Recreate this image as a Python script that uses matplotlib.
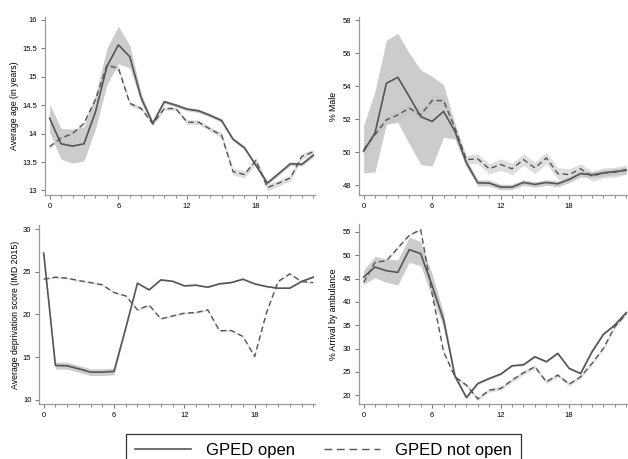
import numpy as np
import matplotlib.pyplot as plt
from matplotlib.lines import Line2D

plt.rcParams['font.family'] = ['Liberation Sans', 'DejaVu Sans']

hours = np.arange(24)

# --- Average age ---
age_open = [14.27, 13.82, 13.78, 13.82, 14.38, 15.18, 15.56, 15.35, 14.62, 14.18, 14.56, 14.5,
            14.43, 14.4, 14.32, 14.23, 13.9, 13.75, 13.44, 13.13, 13.3, 13.47, 13.46, 13.62]
age_open_ci = [0.25, 0.27, 0.3, 0.3, 0.3, 0.32, 0.33, 0.2, 0.08, 0.04, 0.03, 0.03,
               0.03, 0.03, 0.03, 0.03, 0.03, 0.03, 0.03, 0.03, 0.03, 0.03, 0.03, 0.03]
age_closed = [13.77, 13.92, 14.0, 14.18, 14.6, 15.2, 15.15, 14.53, 14.44, 14.17, 14.44, 14.44,
              14.2, 14.2, 14.08, 13.97, 13.33, 13.28, 13.53, 13.05, 13.13, 13.22, 13.6, 13.68]
age_closed_ci = [0.03, 0.03, 0.03, 0.03, 0.04, 0.05, 0.05, 0.04, 0.03, 0.03, 0.03, 0.03,
                 0.04, 0.04, 0.04, 0.05, 0.06, 0.06, 0.06, 0.06, 0.05, 0.05, 0.05, 0.04]

# --- % Male ---
male_open = [50.05, 51.16, 54.18, 54.54, 53.37, 52.16, 51.86, 52.47, 51.26, 49.35, 48.14, 48.12,
             47.88, 47.88, 48.16, 48.04, 48.16, 48.08, 48.34, 48.7, 48.62, 48.74, 48.82, 48.9]
male_open_lo = [48.75, 48.8, 51.7, 51.8, 50.5, 49.25, 49.15, 50.9, 50.8, 49.1, 47.95, 47.95,
                47.72, 47.72, 47.98, 47.88, 47.98, 47.9, 48.15, 48.5, 48.45, 48.55, 48.62, 48.7]
male_open_hi = [51.6, 53.7, 56.8, 57.2, 56.0, 55.0, 54.6, 54.1, 51.7, 49.6, 48.32, 48.3,
                48.05, 48.05, 48.33, 48.2, 48.33, 48.25, 48.52, 48.88, 48.8, 48.93, 49.0, 49.1]
male_closed = [50.15, 51.06, 51.96, 52.26, 52.67, 52.26, 53.13, 53.13, 51.46, 49.55, 49.59, 48.99,
               49.25, 48.99, 49.55, 49.04, 49.65, 48.7, 48.64, 48.99, 48.54, 48.74, 48.78, 48.94]
male_closed_ci = [0.3, 0.3, 0.3, 0.3, 0.3, 0.3, 0.3, 0.3, 0.25, 0.25, 0.3, 0.3,
                  0.35, 0.35, 0.35, 0.35, 0.35, 0.35, 0.35, 0.3, 0.3, 0.3, 0.3, 0.3]

# --- Deprivation score ---
imd_open = [27.2, 14.02, 13.98, 13.63, 13.24, 13.24, 13.32, 18.4, 23.67, 22.89, 24.06, 23.9,
            23.36, 23.44, 23.2, 23.6, 23.75, 24.14, 23.6, 23.28, 23.09, 23.09, 23.87, 24.38]
imd_open_ci = [0.3, 0.4, 0.4, 0.4, 0.4, 0.4, 0.4, 0.1, 0.05, 0.05, 0.05, 0.05,
               0.05, 0.05, 0.05, 0.05, 0.05, 0.05, 0.05, 0.05, 0.05, 0.05, 0.05, 0.05]
imd_closed = [24.14, 24.38, 24.26, 23.98, 23.75, 23.48, 22.58, 22.19, 20.55, 21.1, 19.49, 19.84,
              20.16, 20.23, 20.55, 18.09, 18.13, 17.42, 15.08, 20.16, 23.87, 24.77, 23.87, 23.75]
imd_closed_ci = [0.1] * 24

# --- % Arrival by ambulance ---
amb_open = [45.3, 47.47, 46.68, 46.32, 51.2, 50.34, 43.5, 36.13, 24.08, 19.49, 22.5, 23.58,
            24.51, 26.3, 26.52, 28.24, 27.17, 28.96, 25.73, 24.65, 29.32, 33.05, 35.06, 37.71]
amb_open_ci = [1.5, 2.3, 2.5, 2.7, 2.7, 2.6, 2.5, 1.5, 0.5, 0.3, 0.2, 0.2,
               0.2, 0.2, 0.2, 0.2, 0.2, 0.2, 0.2, 0.2, 0.2, 0.2, 0.2, 0.2]
amb_closed = [44.17, 48.47, 48.83, 51.56, 54.28, 55.5, 41.8, 29.32, 23.94, 22.14, 19.2, 21.07,
              21.43, 23.22, 24.8, 26.09, 22.86, 24.3, 22.36, 23.94, 26.81, 30.04, 34.7, 37.42]
amb_closed_ci = [0.2, 0.2, 0.2, 0.2, 0.2, 0.2, 0.3, 0.3, 0.3, 0.3, 0.4, 0.4,
                 0.4, 0.4, 0.4, 0.4, 0.4, 0.4, 0.4, 0.4, 0.3, 0.3, 0.3, 0.3]

LINE_C = '#555555'
BAND_OPEN = '#c4c4c4'
BAND_CLOSED = '#dedede'

W, H = 628, 459
fig = plt.figure(figsize=(W / 100, H / 100), dpi=100)


def px_axes(left, right, top, bottom):
    return fig.add_axes([left / W, 1 - bottom / H, (right - left) / W, (bottom - top) / H])


def style(ax, ylim, yticks, ylabel, label_x):
    ax.set_xlim(-0.4, 23.15)
    ax.set_ylim(*ylim)
    ax.set_xticks([0, 6, 12, 18])
    ax.set_xticks(hours, minor=True)
    ax.set_yticks(yticks)
    ax.set_yticklabels([('%g' % v) for v in yticks])
    for s in ['top', 'right']:
        ax.spines[s].set_visible(False)
    for s in ['left', 'bottom']:
        ax.spines[s].set_color('#9a9a9a')
        ax.spines[s].set_linewidth(0.9)
    ax.tick_params(axis='both', which='major', length=3, width=0.7, color='#777777',
                   labelsize=5.5, pad=2.5)
    ax.tick_params(axis='x', which='minor', length=2, width=0.6, color='#777777')
    ax.set_ylabel(ylabel, fontsize=6.3)
    ax.yaxis.set_label_coords(label_x, 0.5)


def draw(ax, y1, lo1, hi1, y2, lo2, hi2):
    ax.fill_between(hours, lo2, hi2, color=BAND_CLOSED, lw=0, zorder=1)
    ax.fill_between(hours, lo1, hi1, color=BAND_OPEN, lw=0, alpha=0.85, zorder=2)
    ax.plot(hours, y1, color=LINE_C, lw=1.2, zorder=3)
    ax.plot(hours, y2, color=LINE_C, lw=1.0, ls=(0, (4, 2.5)), zorder=3)


def ci(y, c):
    y, c = np.array(y), np.array(c)
    return y - c, y + c


ax1 = px_axes(45, 315, 17, 195)
draw(ax1, age_open, *ci(age_open, age_open_ci), age_closed, *ci(age_closed, age_closed_ci))
style(ax1, (12.92, 16.05), [13, 13.5, 14, 14.5, 15, 15.5, 16], 'Average age (in years)', -0.095)

ax2 = px_axes(359, 628, 17, 195)
draw(ax2, male_open, male_open_lo, male_open_hi, male_closed, *ci(male_closed, male_closed_ci))
style(ax2, (47.4, 58.2), [48, 50, 52, 54, 56, 58], '% Male', -0.078)

ax3 = px_axes(39, 315, 225, 404)
draw(ax3, imd_open, *ci(imd_open, imd_open_ci), imd_closed, *ci(imd_closed, imd_closed_ci))
style(ax3, (9.5, 30.5), [10, 15, 20, 25, 30], 'Average deprivation score (IMD 2015)', -0.068)

ax4 = px_axes(359, 628, 224, 404)
draw(ax4, amb_open, *ci(amb_open, amb_open_ci), amb_closed, *ci(amb_closed, amb_closed_ci))
style(ax4, (18.1, 56.7), [20, 25, 30, 35, 40, 45, 50, 55], '% Arrival by ambulance', -0.078)

handles = [Line2D([], [], color=LINE_C, lw=1.2),
           Line2D([], [], color=LINE_C, lw=1.0, ls=(0, (5.5, 3.5)))]
leg = fig.legend(handles, ['GPED open', 'GPED not open'], loc='upper center',
                 bbox_to_anchor=(0.515, 1 - 426 / H), ncol=2, fontsize=12,
                 handlelength=3.4, columnspacing=1.7, handletextpad=0.9,
                 borderpad=0.5, fancybox=False, framealpha=1)
leg.get_frame().set_edgecolor('#333333')
leg.get_frame().set_linewidth(0.9)

fig.savefig('out.png', dpi=100)
